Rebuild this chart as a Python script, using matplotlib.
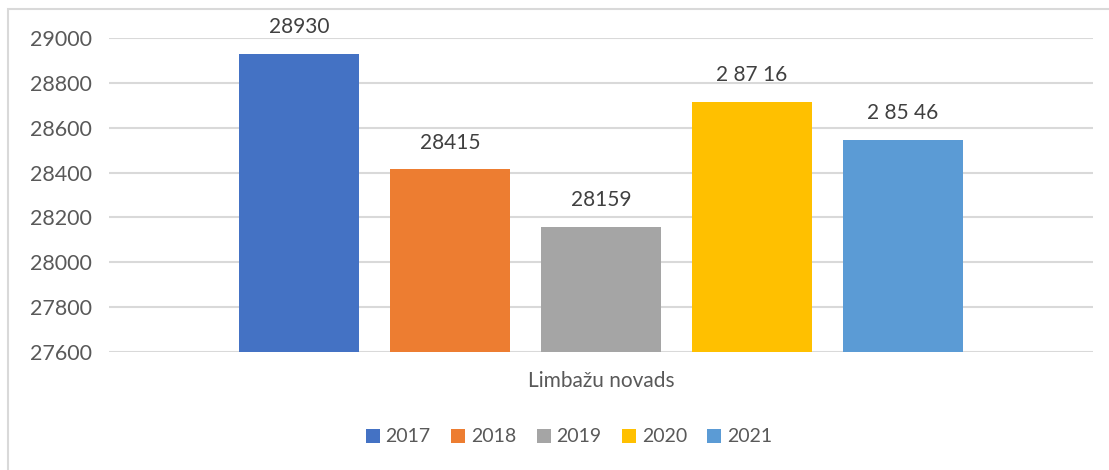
import matplotlib.pyplot as plt
from matplotlib.patches import Rectangle

years = ["2017", "2018", "2019", "2020", "2021"]
values = [28930, 28415, 28159, 28716, 28546]
value_labels = ["28930", "28415", "28159", "2 87 16", "2 85 46"]
category = "Limbažu novads"
colors = ["#4472C4", "#ED7D31", "#A5A5A5", "#FFC000", "#5B9BD5"]
yticks = [27600, 27800, 28000, 28200, 28400, 28600, 28800, 29000]

plt.rcParams['font.family'] = ['Lato', 'DejaVu Sans']
text_color = "#595959"
grid_color = "#D9D9D9"

fig = plt.figure(figsize=(11.09, 4.70), dpi=100)
ax = fig.add_axes([109 / 1109, 118 / 470, 984 / 1109, 314 / 470])

# frame of the chart area (only left and top visible in the crop)
fig.add_artist(Rectangle((8 / 1109, -0.1), 1.2, 1.1 - 9 / 470,
                         transform=fig.transFigure, fill=False,
                         edgecolor=grid_color, linewidth=1.5))

bar_w = 120 / 984
step = 151 / 984
n = len(years)
for i, (yr, v, lab, c) in enumerate(zip(years, values, value_labels, colors)):
    x = (i - (n - 1) / 2) * step
    ax.bar(x, v - yticks[0], bottom=yticks[0], width=bar_w, color=c, label=yr, zorder=3)
    ax.annotate(lab, (x, v), xytext=(0, 12), textcoords="offset points",
                ha="center", va="bottom", fontsize=15, color="#404040")

ax.set_xlim(-0.5, 0.5)
ax.set_ylim(yticks[0], yticks[-1])
ax.set_yticks(yticks)
ax.set_yticklabels([str(t) for t in yticks], fontsize=15.5, color=text_color)
ax.set_xticks([0])
ax.set_xticklabels([category], fontsize=15, color=text_color)
ax.tick_params(axis="both", length=0)
ax.tick_params(axis="y", pad=57)
ax.tick_params(axis="x", pad=14)
for lbl in ax.get_yticklabels():
    lbl.set_horizontalalignment("left")
ax.grid(axis="y", color=grid_color, linewidth=1.5, zorder=0)
for s in ax.spines.values():
    s.set_visible(False)

fig.legend(loc="center", bbox_to_anchor=(569 / 1109, 33 / 470), ncol=5,
           frameon=False, fontsize=14, handlelength=0.72, handleheight=0.72,
           handletextpad=0.3, columnspacing=1.05, labelcolor=text_color)

fig.savefig("out.png", dpi=100)
